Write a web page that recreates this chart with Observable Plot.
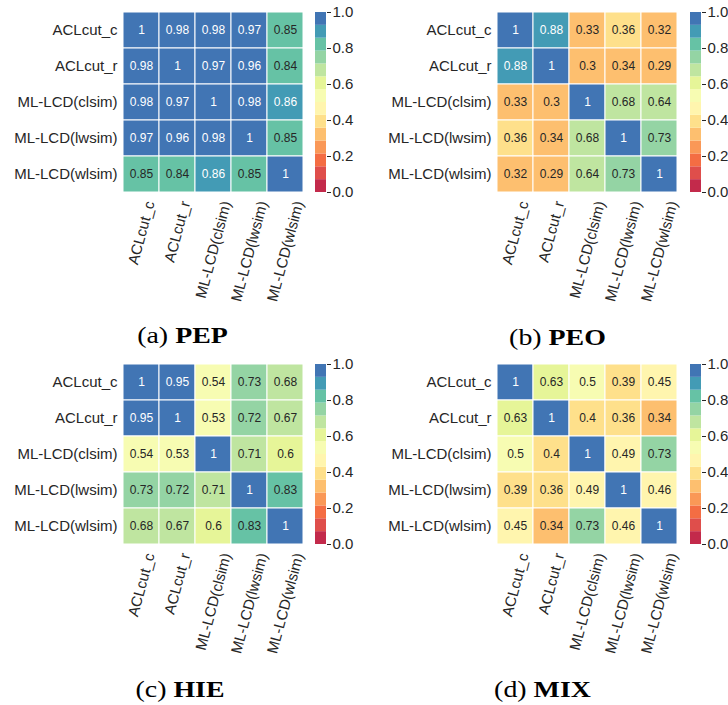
<!DOCTYPE html>
<html><head><meta charset="utf-8">
<script src="https://cdn.jsdelivr.net/npm/d3@7"></script>
<script src="https://cdn.jsdelivr.net/npm/@observablehq/plot@0.6"></script>
<style>
body{margin:0;background:#fff;overflow:hidden}
#root{position:relative;width:728px;height:705px;overflow:hidden;background:#fff}
.panel{position:absolute}
.panel svg{max-width:none !important}
</style></head><body><div id="root"></div>
<script>
// ---- data ----
const labels = ["ACLcut_c", "ACLcut_r", "ML-LCD(clsim)", "ML-LCD(lwsim)", "ML-LCD(wlsim)"];
const pep = [
  [1, 0.98, 0.98, 0.97, 0.85],
  [0.98, 1, 0.97, 0.96, 0.84],
  [0.98, 0.97, 1, 0.98, 0.86],
  [0.97, 0.96, 0.98, 1, 0.85],
  [0.85, 0.84, 0.86, 0.85, 1]
];
const peo = [
  [1, 0.88, 0.33, 0.36, 0.32],
  [0.88, 1, 0.3, 0.34, 0.29],
  [0.33, 0.3, 1, 0.68, 0.644],
  [0.36, 0.34, 0.68, 1, 0.73],
  [0.32, 0.29, 0.644, 0.73, 1]
];
const hie = [
  [1, 0.95, 0.54, 0.73, 0.68],
  [0.95, 1, 0.53, 0.72, 0.67],
  [0.54, 0.53, 1, 0.71, 0.6],
  [0.73, 0.72, 0.71, 1, 0.83],
  [0.68, 0.67, 0.6, 0.83, 1]
];
const mix = [
  [1, 0.63, 0.5, 0.39, 0.45],
  [0.63, 1, 0.4, 0.36, 0.34],
  [0.5, 0.4, 1, 0.49, 0.73],
  [0.39, 0.36, 0.49, 1, 0.46],
  [0.45, 0.34, 0.73, 0.46, 1]
];
const captionLetters = ["(a)", "(b)", "(c)", "(d)"];
const captionNames = ["PEP", "PEO", "HIE", "MIX"];
const colorbarTicks = [0, 0.2, 0.4, 0.6, 0.8, 1.0];

// ---- colormap: matplotlib Spectral, 14 discrete colours (seaborn palette) ----
const spectralStops = ["#9e0142","#d53e4f","#f46d43","#fdae61","#fee08b","#ffffbf","#e6f598","#abdda4","#66c2a5","#3288bd","#5e4fa2"];
const spectral = d3.piecewise(d3.interpolateRgb, spectralStops);
const nColors = 14;
const palette = d3.range(nColors).map(i => d3.color(spectral((i + 1) / (nColors + 1))).formatHex());
const thresholds = d3.range(1, nColors).map(i => i / nColors);
const colorOf = v => palette[Math.min(nColors - 1, Math.floor(v * nColors + 1e-9))];
function lum(hex) {
  const c = d3.rgb(hex);
  const f = x => { x /= 255; return x <= 0.03928 ? x / 12.92 : Math.pow((x + 0.055) / 1.055, 2.4); };
  return 0.2126 * f(c.r) + 0.7152 * f(c.g) + 0.0722 * f(c.b);
}
const textColor = v => lum(colorOf(v)) < 0.408 ? "white" : "#262626";
const fmt = d3.format(".2~g");

// ---- text measuring for rotated labels ----
const ctx = document.createElement("canvas").getContext("2d");
ctx.font = '15px "Liberation Sans"';
const measure = s => ctx.measureText(s).width;

const FONT = '"Liberation Sans", Arial, sans-serif';
const CELL = 36;
const layout = [
  {matrix: pep, ox: 0, oy: 0, heatLeft: 123, heatTop: 12, cbLeft: 315, capX: 182.5, capBase: 343},
  {matrix: peo, ox: 364, oy: 0, heatLeft: 497, heatTop: 12, cbLeft: 690, capX: 557.5, capBase: 345},
  {matrix: hie, ox: 0, oy: 350, heatLeft: 123, heatTop: 364, cbLeft: 315, capX: 180, capBase: 697},
  {matrix: mix, ox: 364, oy: 350, heatLeft: 497, heatTop: 364, cbLeft: 690, capX: 542.5, capBase: 697}
];

const root = document.getElementById("root");

layout.forEach((p, k) => {
  const cells = [];
  p.matrix.forEach((row, i) => row.forEach((v, j) => cells.push({row: labels[i], col: labels[j], v})));
  const mL = p.heatLeft - p.ox, mT = p.heatTop - p.oy, mB = 120;
  const W = mL + 5 * CELL + 6;
  const heat = Plot.plot({
    width: W,
    height: mT + 5 * CELL + mB,
    marginLeft: mL, marginTop: mT, marginRight: 6, marginBottom: mB,
    x: {domain: labels, padding: 0, axis: null},
    y: {domain: labels, padding: 0},
    color: {type: "threshold", domain: thresholds, range: palette},
    style: {fontFamily: FONT, fontSize: "15px", color: "#262626", background: "transparent", overflow: "visible", maxWidth: "none"},
    marks: [
      Plot.cell(cells, {x: "col", y: "row", fill: "v", stroke: "white", strokeWidth: 1}),
      Plot.text(cells, {x: "col", y: "row", text: d => fmt(d.v), fill: d => textColor(d.v), fontSize: 12}),
      Plot.axisY({tickSize: 0, tickPadding: 6, fontSize: 15, label: null, fill: "#262626"}),
      ...labels.map(c => Plot.text([c], {
        x: d => d, frameAnchor: "bottom", dy: 9, dx: 0.1295 * measure(c),
        rotate: -75, textAnchor: "end", lineAnchor: "middle", fontSize: 15, fill: "#262626"
      }))
    ]
  });
  const hd = document.createElement("div");
  hd.className = "panel";
  hd.style.left = p.ox + "px"; hd.style.top = p.oy + "px"; hd.style.width = W + "px";
  hd.appendChild(heat);
  root.appendChild(hd);

  // colorbar
  const bands = palette.map((c, i) => ({lo: i / nColors, hi: (i + 1) / nColors, color: c}));
  const cbM = 10, cbW = 11 + 50;
  const cb = Plot.plot({
    width: cbW, height: 5 * CELL + 2 * cbM,
    marginLeft: 0, marginRight: 50, marginTop: cbM, marginBottom: cbM,
    x: {domain: [0, 1], axis: null},
    y: {domain: [0, 1], axis: null},
    style: {fontFamily: FONT, fontSize: "15px", color: "#262626", background: "transparent", overflow: "visible", maxWidth: "none"},
    marks: [
      Plot.rect(bands, {x1: 0, x2: 1, y1: "lo", y2: "hi", fill: "color"}),
      Plot.axisY({anchor: "right", ticks: colorbarTicks, tickFormat: d3.format(".1f"), tickSize: 4, tickPadding: 2, fontSize: 15, label: null, fill: "#262626"})
    ]
  });
  const cd = document.createElement("div");
  cd.className = "panel";
  cd.style.left = p.cbLeft + "px"; cd.style.top = (p.heatTop - cbM) + "px"; cd.style.width = cbW + "px";
  cd.appendChild(cb);
  root.appendChild(cd);
});

// captions
const ns = "http://www.w3.org/2000/svg";
const svg = document.createElementNS(ns, "svg");
svg.setAttribute("width", 728); svg.setAttribute("height", 705);
svg.style.position = "absolute"; svg.style.left = "0"; svg.style.top = "0";
layout.forEach((p, k) => {
  const t = document.createElementNS(ns, "text");
  t.setAttribute("transform", `translate(${p.capX},${p.capBase}) scale(1.24,1)`);
  t.setAttribute("text-anchor", "middle");
  t.setAttribute("font-family", '"Liberation Serif", serif');
  t.setAttribute("font-size", "22.5");
  t.setAttribute("fill", "#000");
  const a = document.createElementNS(ns, "tspan");
  a.textContent = captionLetters[k] + " ";
  const b = document.createElementNS(ns, "tspan");
  b.setAttribute("font-weight", "bold");
  b.textContent = captionNames[k];
  t.appendChild(a); t.appendChild(b);
  svg.appendChild(t);
});
root.appendChild(svg);
</script>
</body></html>
